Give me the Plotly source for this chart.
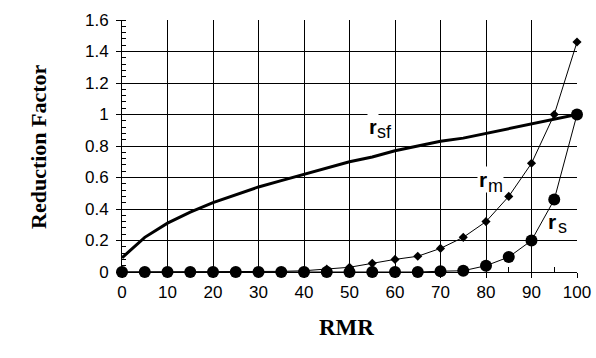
import plotly.graph_objects as go

rmr = [0, 5, 10, 15, 20, 25, 30, 35, 40, 45, 50, 55, 60, 65, 70, 75, 80, 85, 90, 95, 100]
r_sf = [0.09, 0.22, 0.31, 0.38, 0.44, 0.49, 0.54, 0.58, 0.62, 0.66, 0.70, 0.73,
        0.77, 0.80, 0.83, 0.85, 0.88, 0.91, 0.94, 0.97, 1.0]
r_m = [0.0, 0.0, 0.0, 0.0, 0.0, 0.001, 0.002, 0.004, 0.008, 0.018, 0.03, 0.055,
       0.08, 0.10, 0.15, 0.22, 0.32, 0.48, 0.69, 1.0, 1.46]
r_s = [0.0, 0.0, 0.0, 0.0, 0.0, 0.0, 0.0, 0.0, 0.0, 0.0, 0.0, 0.0,
       0.0, 0.0, 0.005, 0.008, 0.04, 0.095, 0.20, 0.46, 1.0]

labels = [("r", "sf"), ("r", "m"), ("r", "s")]
label_pos_r = [(55.2, 0.925), (79.4, 0.59), (94.4, 0.322)]
label_pos_sub = [(57.7, 0.89), (82.0, 0.545), (96.8, 0.283)]
label_bg = ["white", "white", "rgba(0,0,0,0)"]

fig = go.Figure()
fig.add_trace(go.Scatter(x=rmr, y=r_m, mode="lines+markers", cliponaxis=False,
                         line=dict(color="black", width=1),
                         marker=dict(symbol="diamond", size=7, color="black")))
fig.add_trace(go.Scatter(x=rmr, y=r_s, mode="lines+markers", cliponaxis=False,
                         line=dict(color="black", width=1),
                         marker=dict(symbol="circle", size=12, color="black")))
fig.add_trace(go.Scatter(x=rmr, y=r_sf, mode="lines", cliponaxis=False,
                         line=dict(color="black", width=3)))

annotations = []
for (main, sub), (xr, yr), (xs, ys), bg in zip(labels, label_pos_r, label_pos_sub, label_bg):
    annotations.append(dict(x=xr, y=yr, xref="x", yref="y", text="<b>" + main + "</b>",
                            showarrow=False, bgcolor=bg, borderpad=1,
                            font=dict(family="Liberation Sans, Arial", size=21, color="black")))
    annotations.append(dict(x=xs, y=ys, xref="x", yref="y", text=sub,
                            showarrow=False, bgcolor=bg, borderpad=0,
                            font=dict(family="Liberation Sans, Arial", size=18, color="black")))

annotations.append(dict(x=-0.2165, y=0.5, xref="paper", yref="paper", text="<b>Reduction Factor</b>",
                        textangle=-90, showarrow=False,
                        font=dict(family="Liberation Serif, Times New Roman, serif", size=22, color="black")))
annotations.append(dict(x=0.494, y=-0.277, xref="paper", yref="paper", text="<b>RMR</b>",
                        showarrow=False,
                        font=dict(family="Liberation Serif, Times New Roman, serif", size=23, color="black")))

fig.update_layout(
    width=596, height=358,
    margin=dict(l=122, r=19, t=20, b=86),
    paper_bgcolor="white", plot_bgcolor="white",
    showlegend=False,
    annotations=annotations,
    font=dict(family="Liberation Sans, Arial", size=18, color="black"),
)
fig.update_xaxes(range=[0, 100], tickvals=list(range(0, 101, 10)), automargin=False,
                 showgrid=True, gridcolor="black", gridwidth=1,
                 showline=True, linecolor="black", linewidth=1, zeroline=False,
                 ticks="outside", ticklen=5, tickcolor="black",
                 minor=dict(tickvals=list(range(5, 100, 10)), ticks="inside", ticklen=5,
                            tickcolor="black", showgrid=False),
                 tickfont=dict(size=17))
fig.update_yaxes(range=[0, 1.6], dtick=0.2, tick0=0, automargin=False,
                 showgrid=True, gridcolor="black", gridwidth=1,
                 showline=True, linecolor="black", linewidth=1, zeroline=False,
                 ticks="outside", ticklen=5, tickcolor="black", ticklabelstandoff=4,
                 minor=dict(dtick=0.04, ticks="inside", ticklen=4, tickcolor="black", showgrid=False),
                 tickfont=dict(size=17))

fig.write_html(
    "out.html",
    config={"displayModeBar": False},
    post_script="document.documentElement.style.overflow='hidden';"
                "document.body.style.overflow='hidden';"
                "document.body.style.margin='0px';",
)
